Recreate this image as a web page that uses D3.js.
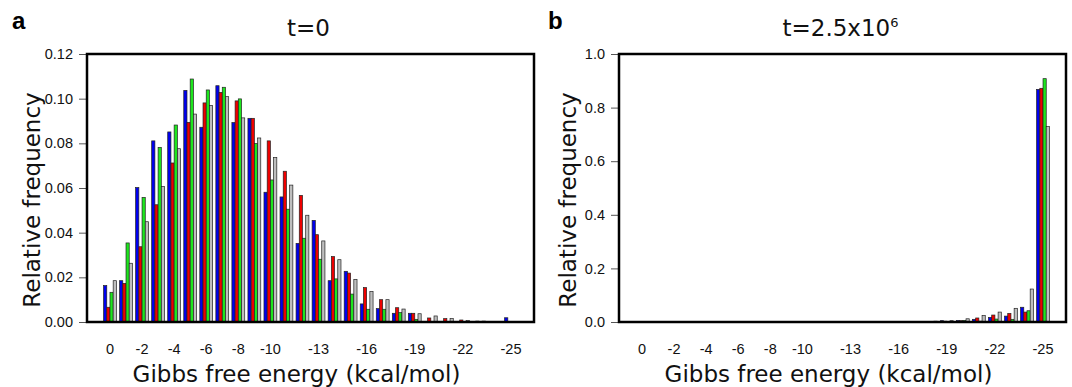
<!DOCTYPE html>
<html>
<head>
<meta charset="utf-8">
<script src="https://cdn.jsdelivr.net/npm/d3@7"></script>
<style>
  body { margin: 0; background: #fff; }
  svg { display: block; }
</style>
</head>
<body>
<div id="chart"></div>
<script>
// categories: Gibbs free energy bins, 0 .. -25 kcal/mol
const categories = d3.range(0, -26, -1).map(String);
const tickLabels = ["0", "-2", "-4", "-6", "-8", "-10", "-13", "-16", "-19", "-22", "-25"];
const seriesColors = ["#0000ee", "#ee0000", "#1ee61e", "#bebebe"];

// panel a, t=0
const t0Blue  = [0.0163, 0.0185, 0.0602, 0.0811, 0.0851, 0.1037, 0.0872, 0.1058, 0.0893, 0.0912, 0.0581, 0.0560, 0.0352, 0.0455, 0.0185, 0.0227, 0.0081, 0.0060, 0.0039, 0.0039, 0.0000, 0.0000, 0.0000, 0.0000, 0.0000, 0.0019];
const t0Red   = [0.0066, 0.0173, 0.0337, 0.0525, 0.0712, 0.0894, 0.0981, 0.1028, 0.0990, 0.0912, 0.0811, 0.0675, 0.0567, 0.0391, 0.0293, 0.0219, 0.0154, 0.0100, 0.0064, 0.0039, 0.0018, 0.0015, 0.0009, 0.0004, 0.0000, 0.0000];
const t0Green = [0.0133, 0.0354, 0.0558, 0.0782, 0.0882, 0.1088, 0.1039, 0.1051, 0.0999, 0.0799, 0.0636, 0.0505, 0.0375, 0.0281, 0.0193, 0.0125, 0.0057, 0.0057, 0.0042, 0.0012, 0.0000, 0.0000, 0.0000, 0.0000, 0.0000, 0.0000];
const t0Grey  = [0.0185, 0.0263, 0.0449, 0.0607, 0.0776, 0.0931, 0.0970, 0.1009, 0.0914, 0.0824, 0.0736, 0.0613, 0.0478, 0.0363, 0.0279, 0.0191, 0.0136, 0.0100, 0.0058, 0.0037, 0.0027, 0.0015, 0.0007, 0.0004, 0.0000, 0.0000];

// panel b, t=2.5x10^6
const t1Blue  = [0, 0, 0, 0, 0, 0, 0, 0, 0, 0, 0, 0, 0, 0, 0, 0, 0, 0.001, 0.002, 0.005, 0.006, 0.010, 0.017, 0.022, 0.055, 0.868];
const t1Red   = [0, 0, 0, 0, 0, 0, 0, 0, 0, 0, 0, 0, 0, 0, 0, 0, 0, 0.001, 0.002, 0.003, 0.005, 0.015, 0.026, 0.032, 0.037, 0.872];
const t1Green = [0, 0, 0, 0, 0, 0, 0, 0, 0, 0, 0, 0, 0, 0, 0, 0, 0, 0.000, 0.001, 0.002, 0.006, 0.003, 0.011, 0.010, 0.042, 0.908];
const t1Grey  = [0, 0, 0, 0, 0, 0, 0, 0, 0, 0, 0, 0, 0, 0, 0, 0, 0.001, 0.002, 0.003, 0.005, 0.012, 0.024, 0.037, 0.051, 0.123, 0.729];

const panels = [
  {letter: "a", title: "t=0", sup: null, series: [t0Blue, t0Red, t0Green, t0Grey],
   left: 87, right: 534, yMax: 0.12, yTicks: d3.range(0, 0.1201, 0.02), fmt: d3.format(".2f"), offset: 0},
  {letter: "b", title: "t=2.5x10", sup: "6", series: [t1Blue, t1Red, t1Green, t1Grey],
   left: 619, right: 1066, yMax: 1.0, yTicks: d3.range(0, 1.001, 0.2), fmt: d3.format(".1f"), offset: 536}
];

const plotTop = 54, plotBottom = 322;
const labelFont = "'Liberation Sans', Arial, sans-serif";
const titleFont = "'DejaVu Sans', sans-serif";

const svg = d3.select("#chart").append("svg")
  .attr("width", 1072)
  .attr("height", 387);

panels.forEach(p => {
  const g = svg.append("g");

  // outer band: 26 groups, inner band: 4 bars beside each other
  const x = d3.scaleBand()
    .domain(categories)
    .range([p.left, p.right])
    .paddingInner(0.2)
    .paddingOuter(1.032);
  const xi = d3.scaleBand()
    .domain(d3.range(4))
    .range([0, x.bandwidth()]);
  const y = d3.scaleLinear()
    .domain([0, p.yMax])
    .range([plotBottom, plotTop]);

  const groups = g.append("g").selectAll("g")
    .data(categories)
    .join("g")
    .attr("transform", c => `translate(${x(c)},0)`);

  groups.selectAll("rect")
    .data((c, i) => p.series.map((s, k) => ({k: k, v: s[i]})).filter(d => d.v > 0))
    .join("rect")
    .attr("x", d => xi(d.k))
    .attr("width", xi.bandwidth())
    .attr("y", d => y(d.v))
    .attr("height", d => y(0) - y(d.v))
    .attr("fill", d => seriesColors[d.k])
    .attr("stroke", "#222")
    .attr("stroke-width", 0.7);

  // y axis
  const ya = g.append("g")
    .attr("transform", `translate(${p.left},0)`)
    .call(d3.axisLeft(y).tickValues(p.yTicks).tickFormat(p.fmt).tickSize(8).tickPadding(6));
  ya.select(".domain").remove();
  ya.selectAll("line").attr("stroke", "#555");
  ya.selectAll("text").attr("font-family", labelFont).attr("font-size", 14.5).attr("fill", "#111");

  // x axis labels only
  const xa = g.append("g")
    .attr("transform", `translate(0,${plotBottom})`)
    .call(d3.axisBottom(x).tickValues(tickLabels).tickSize(0).tickPadding(22));
  xa.select(".domain").remove();
  xa.selectAll("text").attr("font-family", labelFont).attr("font-size", 14.5).attr("fill", "#111");

  // frame
  g.append("rect")
    .attr("x", p.left)
    .attr("y", plotTop)
    .attr("width", p.right - p.left)
    .attr("height", plotBottom - plotTop)
    .attr("fill", "none")
    .attr("stroke", "#000")
    .attr("stroke-width", 2.5);

  const cx = (p.left + p.right) / 2;

  const t = g.append("text")
    .attr("x", cx - 2)
    .attr("y", 36)
    .attr("text-anchor", "middle")
    .attr("font-family", titleFont)
    .attr("font-size", 23)
    .attr("fill", "#111")
    .text(p.title);
  if (p.sup) {
    t.append("tspan").attr("dy", -9).attr("font-size", 13).text(p.sup);
  }

  g.append("text")
    .attr("x", p.offset + 12)
    .attr("y", 29)
    .attr("font-family", labelFont)
    .attr("font-weight", "bold")
    .attr("font-size", 24)
    .text(p.letter);

  g.append("text")
    .attr("transform", `translate(${p.offset + 40},${(plotTop + plotBottom) / 2 + 12}) rotate(-90)`)
    .attr("text-anchor", "middle")
    .attr("font-family", titleFont)
    .attr("font-size", 23)
    .attr("fill", "#111")
    .text("Relative frequency");

  g.append("text")
    .attr("x", cx - 14)
    .attr("y", 382)
    .attr("text-anchor", "middle")
    .attr("font-family", titleFont)
    .attr("font-size", 23)
    .attr("fill", "#111")
    .text("Gibbs free energy (kcal/mol)");
});
</script>
</body>
</html>
